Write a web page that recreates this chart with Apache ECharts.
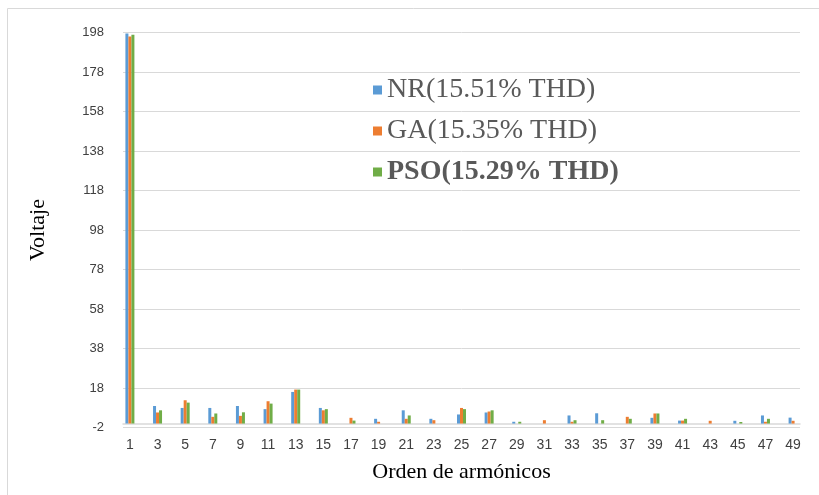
<!DOCTYPE html>
<html>
<head>
<meta charset="utf-8">
<script src="https://cdn.jsdelivr.net/npm/echarts@6/dist/echarts.min.js"></script>
<style>
  html, body { margin: 0; padding: 0; background: #fff; }
  #chart { width: 819px; height: 495px; }
</style>
</head>
<body>
<div id="chart"></div>
<script>
// Orden de armónicos 1..49 (solo se etiquetan los impares)
const armonicos = ['1','2','3','4','5','6','7','8','9','10','11','12','13','14','15','16','17','18','19','20',
  '21','22','23','24','25','26','27','28','29','30','31','32','33','34','35','36','37','38','39','40',
  '41','42','43','44','45','46','47','48','49'];

// Voltaje por armónico (pares = 0)
const nr = [197.5,0,8.9,0,7.9,0,7.9,0,8.9,0,7.3,0,16,0,7.9,0,0,0,2.4,0,
  6.7,0,2.4,0,4.6,0,5.6,0,0.9,0,0,0,4.1,0,5.2,0,0,0,2.9,0,
  1.5,0,0,0,1.4,0,4.1,0,3];
const ga = [196,0,5.6,0,11.8,0,3.4,0,3.9,0,11.3,0,17.2,0,6.7,0,2.9,0,0.9,0,
  2.4,0,1.7,0,7.9,0,6.1,0,0,0,1.7,0,0.9,0,0,0,3.4,0,5.1,0,
  1.5,0,1.4,0,0,0,0.9,0,1.4];
const pso = [196.8,0,6.7,0,10.6,0,5.1,0,5.7,0,10.1,0,17.2,0,7.3,0,1.5,0,0,0,
  4.1,0,0,0,7.3,0,6.7,0,0.9,0,0,0,1.7,0,1.7,0,2.4,0,5.1,0,
  2.4,0,0,0,0.8,0,2.4,0,0];

const nombres = ['NR(15.51% THD)', 'GA(15.35% THD)', 'PSO(15.29% THD)'];
const colores = ['#5B9BD5', '#ED7D31', '#70AD47'];

const myChart = echarts.init(document.getElementById('chart'));

const serie = (name, data, color) => ({
  name,
  type: 'bar',
  data,
  barWidth: 3,
  barGap: '0%',
  itemStyle: { color }
});

const option = {
  animation: false,
  color: colores,
  graphic: [{
    type: 'rect',
    shape: { x: 7.5, y: 8.5, width: 840, height: 520 },
    style: { fill: 'none', stroke: '#d9d9d9', lineWidth: 1 },
    silent: true
  }],
  legend: {
    orient: 'vertical',
    left: 368,
    top: 71,
    itemWidth: 9,
    itemHeight: 9,
    itemGap: 13,
    icon: 'rect',
    textStyle: {
      fontFamily: '"Liberation Serif", "Times New Roman", serif',
      fontSize: 28,
      color: '#595959',
      lineHeight: 28
    },
    data: [
      { name: nombres[0] },
      { name: nombres[1] },
      { name: nombres[2], textStyle: { fontWeight: 'bold' } }
    ]
  },
  grid: { left: 123, right: 19, top: 32.5, bottom: 67.5 },
  xAxis: {
    type: 'category',
    data: armonicos,
    name: 'Orden de armónicos',
    nameLocation: 'middle',
    nameGap: 34,
    nameTextStyle: {
      fontFamily: '"Liberation Serif", "Times New Roman", serif',
      fontSize: 22,
      color: '#000'
    },
    axisTick: { show: false },
    axisLine: { lineStyle: { color: '#d9d9d9', width: 1.5 } },
    axisLabel: {
      interval: 1,
      margin: 11,
      fontFamily: '"Liberation Sans", Arial, sans-serif',
      fontSize: 14,
      color: '#404040'
    }
  },
  yAxis: {
    type: 'value',
    min: -2,
    max: 198,
    interval: 20,
    name: 'Voltaje',
    nameLocation: 'middle',
    nameRotate: 90,
    nameGap: 74,
    nameTextStyle: {
      fontFamily: '"Liberation Serif", "Times New Roman", serif',
      fontSize: 22,
      color: '#000'
    },
    axisLine: { show: false },
    axisTick: { show: false },
    splitLine: { lineStyle: { color: '#d9d9d9', width: 1 } },
    axisLabel: {
      margin: 19,
      fontFamily: '"Liberation Sans", Arial, sans-serif',
      fontSize: 13,
      color: '#404040'
    }
  },
  series: [
    serie(nombres[0], nr, colores[0]),
    serie(nombres[1], ga, colores[1]),
    serie(nombres[2], pso, colores[2])
  ]
};

myChart.setOption(option);
</script>
</body>
</html>
